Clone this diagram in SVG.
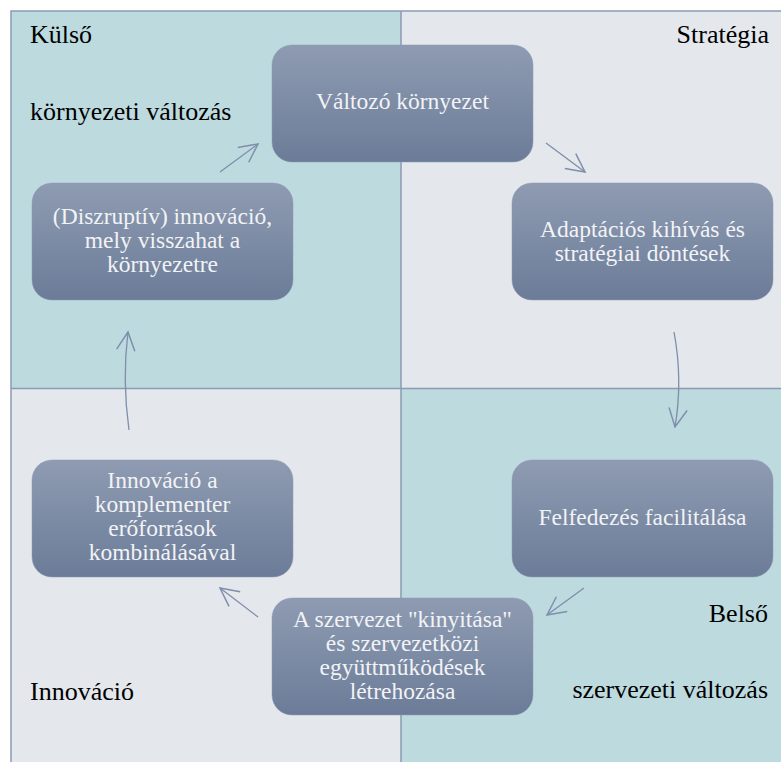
<svg xmlns="http://www.w3.org/2000/svg" width="781" height="762" viewBox="0 0 781 762">
  <defs>
    <linearGradient id="nodeFill" x1="0" y1="0" x2="0" y2="1">
      <stop offset="0" stop-color="#8E9BB2"/>
      <stop offset="1" stop-color="#6C7C98"/>
    </linearGradient>
    <marker id="openHead" viewBox="0 0 12 12" refX="11" refY="6" markerWidth="22" markerHeight="22" markerUnits="userSpaceOnUse" orient="auto">
      <path d="M1,1 L11,6 L1,11" fill="none" stroke="#7E8EAB" stroke-width="0.8"/>
    </marker>
    <style>
      .teal { fill: #BDDADF; }
      .grey { fill: #E4E7EC; }
      .edge { stroke: #8C9BB5; stroke-width: 1.5; fill: none; }
      .box { fill: url(#nodeFill); stroke: #8E9BB2; stroke-width: 0.5; }
      .label { font-family: "Liberation Serif", "Times New Roman", serif; font-size: 23.5px; fill: #F2F3F6; text-anchor: middle; }
      .corner { font-family: "Liberation Serif", "Times New Roman", serif; font-size: 26px; fill: #000000; }
      .flow { fill: none; stroke: #7E8EAB; stroke-width: 1.3; marker-end: url(#openHead); }
    </style>
  </defs>

  <!-- background quadrants -->
  <rect x="0" y="0" width="781" height="762" fill="#FFFFFF"/>
  <rect class="teal" x="11" y="11" width="390" height="377"/>
  <rect class="grey" x="401" y="11" width="380" height="377"/>
  <rect class="grey" x="11" y="388" width="390" height="374"/>
  <rect class="teal" x="401" y="388" width="380" height="374"/>
  <path class="edge" d="M11,762 V11 H781 M401,11 V762 M11,388.5 H781"/>

  <!-- quadrant captions -->
  <text class="corner" x="30" y="43">Külső</text>
  <text class="corner" x="30" y="120">környezeti változás</text>
  <text class="corner" x="769" y="43" text-anchor="end">Stratégia</text>
  <text class="corner" x="30" y="700">Innováció</text>
  <text class="corner" x="768" y="622" text-anchor="end">Belső</text>
  <text class="corner" x="768" y="698" text-anchor="end">szervezeti változás</text>

  <!-- cycle steps -->
  <g id="node-valtozo">
    <rect class="box" x="272" y="45" width="261" height="117" rx="20"/>
    <text class="label" x="402.5" y="109">Változó környezet</text>
  </g>
  <g id="node-adaptacio">
    <rect class="box" x="512" y="183" width="261" height="117" rx="20"/>
    <text class="label" x="642.5" y="237">Adaptációs kihívás és</text>
    <text class="label" x="642.5" y="261">stratégiai döntések</text>
  </g>
  <g id="node-felfedezes">
    <rect class="box" x="512" y="460" width="261" height="117" rx="20"/>
    <text class="label" x="642.5" y="525">Felfedezés facilitálása</text>
  </g>
  <g id="node-kinyitas">
    <rect class="box" x="272" y="598" width="261" height="117" rx="20"/>
    <text class="label" x="402.5" y="627">A szervezet "kinyitása"</text>
    <text class="label" x="402.5" y="651">és szervezetközi</text>
    <text class="label" x="402.5" y="675">együttműködések</text>
    <text class="label" x="402.5" y="699">létrehozása</text>
  </g>
  <g id="node-komplementer">
    <rect class="box" x="32" y="460" width="261" height="117" rx="20"/>
    <text class="label" x="162.5" y="488">Innováció a</text>
    <text class="label" x="162.5" y="512">komplementer</text>
    <text class="label" x="162.5" y="536">erőforrások</text>
    <text class="label" x="162.5" y="560">kombinálásával</text>
  </g>
  <g id="node-diszruptiv">
    <rect class="box" x="32" y="183" width="261" height="117" rx="20"/>
    <text class="label" x="162.5" y="224">(Diszruptív) innováció,</text>
    <text class="label" x="162.5" y="248">mely visszahat a</text>
    <text class="label" x="162.5" y="272">környezetre</text>
  </g>

  <!-- connectors -->
  <g id="connectors">
    <path class="flow" d="M220,172 L258,144"/>
    <path class="flow" d="M546,143 L585,172"/>
    <path class="flow" d="M674,332 Q683,380 675,427"/>
    <path class="flow" d="M584,588 L547,615"/>
    <path class="flow" d="M258,617 L220,588"/>
    <path class="flow" d="M129,430 Q122,380 128,332"/>
  </g>
</svg>
